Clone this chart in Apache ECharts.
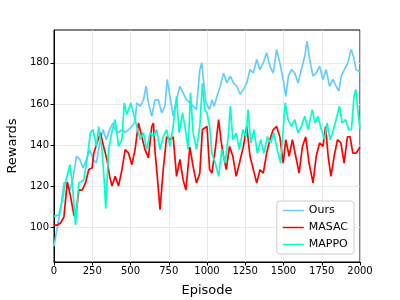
<!DOCTYPE html>
<html><head><meta charset="utf-8">
<script src="https://cdn.jsdelivr.net/npm/echarts@6/dist/echarts.min.js"></script>
<style>html,body{margin:0;padding:0;background:#fff}#c{width:400px;height:300px}</style>
</head><body><div id="c"></div>
<script>
const xTicks = [0, 250, 500, 750, 1000, 1250, 1500, 1750, 2000];
const yTicks = [100, 120, 140, 160, 180];
const seriesNames = ['Ours', 'MASAC', 'MAPPO'];

// [episode, reward]
const oursData = [[0,90.6],[22,100.3],[43,108.5],[65,121.5],[87,121.5],[104,118],[126,124.7],[147,134.5],[169,133],[190,128.8],[212,133],[234,137.7],[255,133],[277,131.2],[299,141],[320,147.5],[342,142.6],[364,147.5],[385,150.7],[400,147.5],[422,146],[444,147.5],[465,146],[487,147.5],[509,149],[530,151.5],[541,160.5],[563,158.9],[585,162],[602,168.6],[617,160.5],[639,154],[660,162],[682,162],[704,155.6],[725,158.9],[740,171.9],[758,163.7],[779,154],[801,162],[823,168.6],[844,165.4],[866,162],[888,160.5],[909,158.9],[931,157.2],[953,176.7],[966,180],[979,170],[994,160.5],[1017,157.2],[1032,162],[1047,158.9],[1065,163.7],[1087,168.6],[1108,175],[1130,170.2],[1152,173.5],[1173,170.2],[1195,168.6],[1217,164.6],[1238,167],[1260,170.2],[1281,176.7],[1303,175],[1325,181.6],[1346,176.7],[1368,180],[1390,184.9],[1411,178.4],[1433,175],[1455,186.5],[1476,180],[1498,171.9],[1515,163.7],[1532,173.5],[1552,176.7],[1574,175],[1595,170.2],[1617,176.7],[1639,183.3],[1654,190.6],[1671,181.6],[1693,173.5],[1714,175],[1736,178.4],[1758,171.9],[1779,176.7],[1801,168.6],[1823,171.9],[1844,168.6],[1862,166.2],[1877,173.5],[1898,176.7],[1920,180],[1942,186.5],[1957,183.3],[1974,176.7],[2000,175.5]];

const masacData = [[0,101],[22,101],[43,102],[65,105],[87,122],[108,115],[130,106],[141,104.4],[162,118],[184,118],[206,121.5],[227,128],[249,128.8],[260,136],[281,141],[303,146],[325,139],[346,133],[364,124.7],[379,120],[400,124.7],[422,120],[444,128],[465,137.7],[487,136],[509,130.4],[530,137.7],[552,150.7],[574,144],[595,137.7],[617,133.7],[639,149],[650,150.7],[660,137],[675,124.7],[693,108.5],[714,128],[736,144],[758,142.6],[779,144],[801,124.7],[823,133],[844,123],[862,118],[888,139],[909,129.6],[931,121.5],[953,126.3],[970,147.5],[1000,149],[1017,128],[1032,126.3],[1054,137.7],[1076,152.4],[1091,142.6],[1108,134.5],[1126,128],[1147,139.3],[1169,134.5],[1191,124.7],[1212,131.2],[1238,139.3],[1260,149],[1281,134.5],[1303,128],[1325,121.5],[1346,128],[1368,126.3],[1390,136],[1411,142.6],[1433,147.5],[1455,149],[1476,144],[1498,131.2],[1515,142.6],[1537,134.5],[1558,142.6],[1580,134.5],[1602,126.3],[1624,139.3],[1645,144],[1667,131.2],[1693,121.5],[1714,134.5],[1736,141],[1758,139.3],[1775,149],[1792,134.5],[1810,124.7],[1831,134.5],[1853,142.6],[1875,141],[1896,131.2],[1918,144],[1935,144],[1953,136],[1974,136],[2000,139]];

const mappoData = [[0,105.2],[32,106],[54,113],[76,122],[104,130.4],[119,121.5],[141,101],[162,121.5],[195,123],[216,133],[238,146],[255,147.5],[277,139.3],[292,149],[314,137.7],[329,121.5],[338,109],[357,137.7],[379,146.7],[400,152.4],[422,139.3],[444,142.6],[459,160.5],[476,154.8],[502,160.5],[524,154],[541,149],[563,142.6],[585,146],[606,137.7],[628,146],[650,144],[671,147.5],[693,137.7],[714,144],[736,147.5],[758,139.3],[779,149],[801,163.7],[818,146],[840,155.6],[862,146],[877,137.7],[892,165.4],[909,146],[931,137.7],[953,149],[970,170],[985,157.2],[1000,155.6],[1017,149],[1032,136],[1054,131.2],[1076,124.7],[1097,137.7],[1119,131.2],[1141,145.8],[1152,158.9],[1169,142.6],[1191,145.8],[1212,137.7],[1234,147.5],[1255,144],[1268,157.2],[1286,141],[1307,147.5],[1329,136],[1351,142.6],[1372,136],[1394,144],[1416,141],[1437,145.8],[1459,137.7],[1481,131.2],[1498,147.5],[1511,160.5],[1530,152.4],[1552,149],[1573,152.4],[1595,145.8],[1617,149],[1639,154],[1660,147.5],[1688,157.2],[1706,150.7],[1725,154],[1747,147.5],[1769,142.6],[1784,150.7],[1805,142.6],[1827,147.5],[1849,154],[1866,158.9],[1883,150.7],[1905,152.4],[1927,147.5],[1944,147.5],[1961,163.7],[1974,167],[1985,157.2],[2000,147.5]];

const colors = ['#66ccff', '#ff0000', '#00ffcc'];
const dataSets = [oursData, masacData, mappoData];

const chart = echarts.init(document.getElementById('c'), null, {renderer: 'canvas'});
const font = 'DejaVu Sans';
chart.setOption({
  animation: false,
  backgroundColor: '#fff',
  grid: {left: 54, right: 40, top: 30, bottom: 38, show: true, borderColor: '#000', borderWidth: 1,
         backgroundColor: 'transparent', containLabel: false, outerBoundsMode: 'none'},
  xAxis: {
    type: 'value', min: 0, max: 2000, interval: 250,
    name: 'Episode', nameLocation: 'middle', nameGap: 22,
    nameTextStyle: {fontFamily: font, fontSize: 13, color: '#000'},
    axisLine: {show: true, lineStyle: {color: '#000', width: 1}},
    axisTick: {show: true, length: 3.5, lineStyle: {color: '#000'}},
    axisLabel: {fontFamily: font, fontSize: 10, color: '#000', margin: 4, formatter: v => String(v)},
    splitLine: {show: true, lineStyle: {color: '#e5e5e5', width: 0.8}}
  },
  yAxis: {
    type: 'value', min: 83, max: 196,
    name: 'Rewards', nameLocation: 'middle', nameGap: 35, nameRotate: 90,
    nameTextStyle: {fontFamily: font, fontSize: 13, color: '#000'},
    axisLine: {show: true, lineStyle: {color: '#000', width: 1}},
    axisTick: {show: true, length: 3.5, lineStyle: {color: '#000'}, customValues: yTicks},
    axisLabel: {fontFamily: font, fontSize: 10, color: '#000', margin: 5, customValues: yTicks},
    splitLine: {show: true, lineStyle: {color: '#e5e5e5', width: 0.8}}
  },
  legend: {
    orient: 'vertical', right: 46, bottom: 46,
    data: seriesNames,
    icon: 'rect', itemWidth: 21, itemHeight: 1.5, itemGap: 6,
    textStyle: {fontFamily: font, fontSize: 11, color: '#000'},
    backgroundColor: 'rgba(255,255,255,0.8)', borderColor: '#cccccc', borderWidth: 1, borderRadius: 3,
    padding: [4, 6, 4, 6]
  },
  series: seriesNames.map((n, i) => ({
    name: n, type: 'line', data: dataSets[i], showSymbol: false, symbol: 'none',
    lineStyle: {color: colors[i], width: 1.7}, itemStyle: {color: colors[i]}
  }))
});
</script></body></html>
